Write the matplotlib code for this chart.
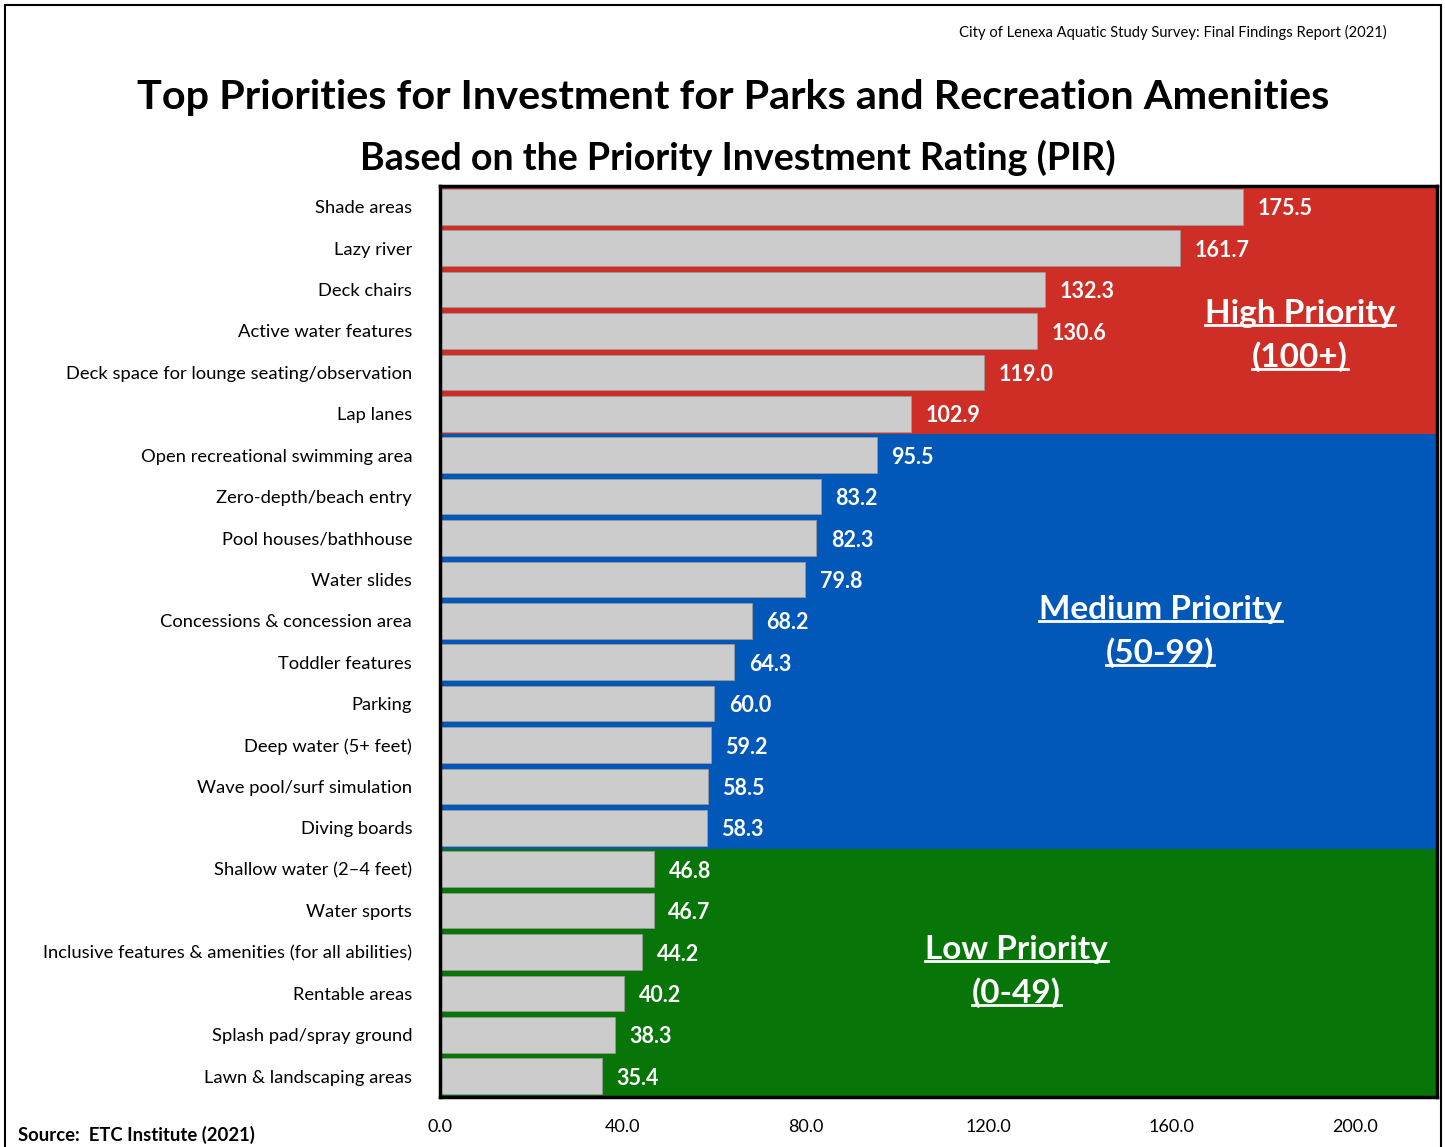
import matplotlib.pyplot as plt
from matplotlib.patches import Rectangle
import numpy as np

plt.rcParams['font.family'] = ['Lato', 'DejaVu Sans']

# data
categories = ['Shade areas', 'Lazy river', 'Deck chairs', 'Active water features',
              'Deck space for lounge seating/observation', 'Lap lanes',
              'Open recreational swimming area', 'Zero-depth/beach entry',
              'Pool houses/bathhouse', 'Water slides', 'Concessions & concession area',
              'Toddler features', 'Parking', 'Deep water (5+ feet)',
              'Wave pool/surf simulation', 'Diving boards', 'Shallow water (2\u20134 feet)',
              'Water sports', 'Inclusive features & amenities (for all abilities)',
              'Rentable areas', 'Splash pad/spray ground', 'Lawn & landscaping areas']
pir = [175.5, 161.7, 132.3, 130.6, 119.0, 102.9, 95.5, 83.2, 82.3, 79.8, 68.2,
       64.3, 60.0, 59.2, 58.5, 58.3, 46.8, 46.7, 44.2, 40.2, 38.3, 35.4]
xticks = [0, 40, 80, 120, 160, 200]
zone_names = ['High Priority', 'Medium Priority', 'Low Priority']
zone_ranges = ['(100+)', '(50-99)', '(0-49)']
zone_min = [100, 50, 0]
zone_colors = ['#cf2e27', '#0258b9', '#077507']

fig = plt.figure(figsize=(14.45, 11.47), dpi=100)
ax = fig.add_axes([440/1445, 1 - 1097/1147, (1437-440)/1445, (1097-186)/1147])

n = len(categories)
y = np.arange(n)

# background bands by priority zone
edges = [-0.5]
for lo in zone_min:
    cnt = sum(1 for v in pir if v >= lo) if lo > 0 else n
    edges.append(cnt - 0.5)
for i in range(3):
    ax.axhspan(edges[i], edges[i+1], color=zone_colors[i], zorder=0, lw=0)

ax.barh(y, pir, height=0.86, color='#cccccc', edgecolor='#9a9a9a', linewidth=0.6, zorder=2)
for yi, v in zip(y, pir):
    ax.text(v + 3.2, yi + 0.05, f'{v:.1f}', color='white', fontsize=15.5, fontweight='bold',
            va='center', ha='left', zorder=3)

ax.set_xlim(0, 218)
ax.set_ylim(n - 0.5, -0.5)
ax.set_yticks(y)
ax.set_yticklabels(categories, fontsize=13.2)
ax.set_xticks(xticks)
ax.set_xticklabels([f'{t:.1f}' for t in xticks], fontsize=13)
ax.tick_params(axis='both', length=0)
ax.tick_params(axis='y', pad=20)
ax.tick_params(axis='x', pad=16)
for s in ax.spines.values():
    s.set_linewidth(2.5)
    s.set_color('black')

# zone labels
zone_x = [188, 157.5, 126]
zone_y = [(2.57, 3.63), (9.72, 10.76), (17.93, 18.99)]
zone_texts = []
for i in range(3):
    t1 = ax.text(zone_x[i], zone_y[i][0], zone_names[i], color='white', fontsize=24,
                 fontweight='bold', ha='center', va='center', zorder=4)
    t2 = ax.text(zone_x[i], zone_y[i][1], zone_ranges[i], color='white', fontsize=24,
                 fontweight='bold', ha='center', va='center', zorder=4)
    zone_texts += [t1, t2]

fig.text(733/1445, 1 - 97/1147, 'Top Priorities for Investment for Parks and Recreation Amenities',
         fontsize=29.8, fontweight='bold', ha='center', va='center')
fig.text(738/1445, 1 - 158/1147, 'Based on the Priority Investment Rating (PIR)',
         fontsize=27.1, fontweight='bold', ha='center', va='center')
fig.text(1387/1445, 1 - 32/1147, 'City of Lenexa Aquatic Study Survey: Final Findings Report (2021)',
         fontsize=10.6, ha='right', va='center')
fig.text(18/1445, 1 - 1135/1147, 'Source:  ETC Institute (2021)', fontsize=13.3,
         fontweight='bold', ha='left', va='center')

fig.patches.append(Rectangle((5/1445, -0.01), 1436/1445, 1 - 5/1147 + 0.01,
                             transform=fig.transFigure, fill=False, ec='black', lw=1.5))

# underline the zone labels
fig.canvas.draw()
r = fig.canvas.get_renderer()
inv = fig.transFigure.inverted()
for t in zone_texts:
    bb = t.get_window_extent(renderer=r)
    (x0, y0), (x1, y1) = inv.transform([(bb.x0, bb.y0), (bb.x1, bb.y1)])
    yl = y0 + 0.1 * (y1 - y0)
    fig.add_artist(plt.Line2D([x0, x1], [yl, yl], transform=fig.transFigure,
                              color='white', lw=2, zorder=5))

fig.savefig('out.png', dpi=100)
